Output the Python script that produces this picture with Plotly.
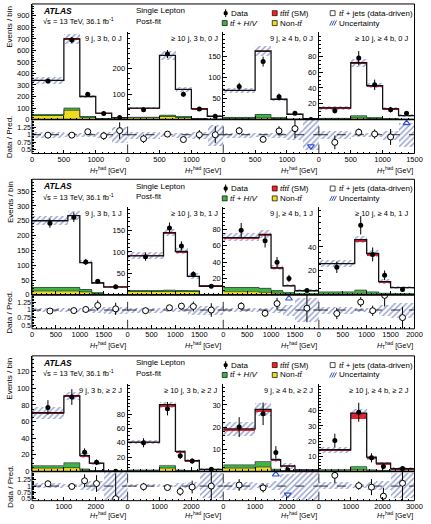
import math
import plotly.graph_objects as go

W, H = 431, 524

# ---------------- data ----------------
region_labels = ["9 j, 3 b, 0 J", "≥ 10 j, 3 b, 0 J", "9 j, ≥ 4 b, 0 J", "≥ 10 j, ≥ 4 b, 0 J",
                 "9 j, 3 b, 1 J", "≥ 10 j, 3 b, 1 J", "9 j, ≥ 4 b, 1 J", "≥ 10 j, ≥ 4 b, 1 J",
                 "9 j, 3 b, ≥ 2 J", "≥ 10 j, 3 b, ≥ 2 J", "9 j, ≥ 4 b, ≥ 2 J", "≥ 10 j, ≥ 4 b, ≥ 2 J"]
bin_edges = [[0, 500, 750, 1000, 1250, 1500],
             [0, 750, 1000, 1250, 1500, 2000],
             [0, 1000, 1500, 1800, 2250, 3000]]
x_ticks = [[0, 500, 1000, 1500], [0, 500, 1000, 1500, 2000], [0, 1000, 2000, 3000]]

prediction = [
    [340, 700, 200, 55, 15],
    [45, 253, 119, 42, 13],
    [69, 162, 48, 12.5, 2],
    [14.7, 72, 43, 13.5, 5],
    [250, 267, 109, 40, 26],
    [91, 145, 101, 43, 20],
    [70, 74, 33, 11, 5],
    [26, 46, 34.5, 11, 6],
    [70.6, 91, 19, 10, 0.5],
    [41, 93, 28, 15, 3],
    [19.2, 28, 5.3, 2.5, 0.7],
    [14.3, 38.4, 9.4, 5.5, 1.8],
]
observed = [
    [335, 690, 220, 53, 17],
    [39, 258, 100, 42, 13],
    [78, 137, 54, 15, 0.3],
    [11, 78, 44, 12.5, 8],
    [242, 262, 111, 46, 27],
    [89, 156, 114, 48, 20],
    [79, 66, 40, 20, 5.3],
    [23, 58, 33.7, 16.3, 4.5],
    [77, 89.5, 23, 11, 0.25],
    [40, 87.5, 22, 14.4, 3],
    [20, 26, 8.5, 0.8, None],
    [20.4, 39, 9, 3.3, 2],
]
uncertainty = [
    [30, 40, 15, 6, 4],
    [5, 18, 10, 5, 4.5],
    [6, 11, 4, 2, 1],
    [2, 5, 3, 2, 2],
    [15, 15, 7, 4, 3],
    [8, 8, 7, 7, 3],
    [5, 5, 3, 2, 2],
    [3, 3, 3, 2, 1.5],
    [7, 5, 3, 2, 0.3],
    [3, 4, 2.5, 2, 1.5],
    [3, 3, 1, 1.2, 0.5],
    [2, 3, 1.5, 1, 0.9],
]
tttt = [
    [0.5, 1.5, 1, 0.5, 0.3],
    [0.3, 2, 1.5, 0.5, 0.2],
    [0.5, 2, 1, 0.3, 0.1],
    [0.3, 1.2, 1, 0.3, 0.1],
    [0.5, 1, 1, 0.5, 0.3],
    [0.5, 2, 2, 1, 0.3],
    [1, 2, 1, 0.5, 0.2],
    [0.5, 2.5, 2, 1, 0.3],
    [0.5, 1, 0.5, 0.3, 0.1],
    [0.5, 2, 1, 0.5, 0.2],
    [0.8, 1, 0.3, 0.2, 0.1],
    [0.5, 3.5, 1, 0.8, 0.2],
]
tthv = [
    [5, 20, 5, 2, 1],
    [2, 5, 3, 1, 0.5],
    [2, 8, 2, 0.5, 0.2],
    [1, 3, 1, 0.5, 0.2],
    [12, 12, 8, 3, 1],
    [1.5, 3, 2, 1, 0.5],
    [5, 5, 3, 1.5, 0.5],
    [2, 3, 2, 1, 0.5],
    [3, 6, 1.5, 0.5, 0.1],
    [1, 3.8, 1, 0.5, 0.2],
    [1.5, 2.5, 0.5, 0.2, 0.1],
    [1, 2.3, 0.8, 0.5, 0.2],
]
non_tt = [
    [35, 80, 20, 5, 2],
    [7, 12, 8, 3, 1],
    [3, 4, 2, 0.5, 0.2],
    [0.5, 2, 1, 0.3, 0.1],
    [13, 13, 10, 3, 0.5],
    [8, 8, 8, 8, 0.5],
    [4, 3, 2, 1, 0.3],
    [0.5, 1, 0.5, 0.3, 0.2],
    [4, 4.5, 1.5, 0.5, 0.1],
    [1, 4.6, 1, 0.5, 0.2],
    [1.5, 2, 0.5, 0.2, 0.1],
    [0.3, 1, 0.3, 0.2, 0.1],
]
y_max = [1003, 345, 207, 111, 390, 204, 107, 73, 139, 122, 39.5, 57.7]
y_ticks = [list(range(0, 1000, 100)), [100, 200], [50, 100, 150], [20, 40, 60, 80],
           list(range(0, 400, 50)), [50, 100, 150], [20, 40, 60, 80], [20, 40],
           list(range(0, 140, 20)), [20, 40, 60, 80], [10, 20, 30], [10, 20, 30, 40]]
y_minor = [20, 20, 10, 5, 10, 10, 5, 5, 5, 5, 2, 2]
x_minor = [100, 100, 200]
ratio_ticks = [0.5, 0.75, 1, 1.25]

# ---------------- style ----------------
FONT = "Liberation Sans, Arial, Helvetica, sans-serif"
C_RED = "#ff1e1e"
C_GREEN = "#3cb44a"
C_YELLOW = "#eedc1e"
C_HATCH = "#2b3d9e"
C_ARROW = "#2e4fd6"
OUT = "#333333"

X0, X1 = 30.7, 422.3
PW = (X1 - X0) / 4
rows = [dict(T=4.0, Mb=120.7, Rb=155.0, ty=172.5, rlo=0.38, rhi=1.5),
        dict(T=181.0, Mb=297.7, Rb=332.0, ty=348.5, rlo=0.38, rhi=1.5),
        dict(T=359.3, Mb=476.0, Rb=505.5, ty=520.0, rlo=0.42, rhi=1.58)]
AX_TOP = 28.3


def fx(x):
    return x / W


def fy(y):
    return 1 - y / H


def akey(kind, n):
    return f"{kind}axis" if n == 1 else f"{kind}axis{n}"


def aref(kind, n):
    return kind if n == 1 else f"{kind}{n}"


fig = go.Figure()
layout = {}
shapes = []
ann = []

hatch_pat = dict(shape="/", fgcolor=C_HATCH, bgcolor="rgba(0,0,0,0)", size=4, solidity=0.36,
                 fillmode="overlay")

for r in range(3):
    g = rows[r]
    R_LO, R_HI = g["rlo"], g["rhi"]
    edges = bin_edges[r]
    centers = [(a + b) / 2 for a, b in zip(edges[:-1], edges[1:])]
    widths = [b - a for a, b in zip(edges[:-1], edges[1:])]
    xmax = edges[-1]
    for c in range(4):
        k = r * 4 + c
        im, ir = 2 * k + 1, 2 * k + 2
        xm, ym, xr, yr = aref("x", im), aref("y", im), aref("x", ir), aref("y", ir)
        left = X0 + c * PW
        right = left + PW
        top = g["T"] if c == 0 else g["T"] + AX_TOP
        tot = prediction[k]
        obs = observed[k]
        unc = uncertainty[k]
        nt = non_tt[k]
        hv = tthv[k]
        t4 = tttt[k]
        cum2 = [a + b for a, b in zip(nt, hv)]

        # ---- main panel ----
        fig.add_trace(go.Bar(x=centers, y=nt, base=[0] * 5, width=widths, xaxis=xm, yaxis=ym,
                             marker=dict(color=C_YELLOW, line=dict(width=0))))
        fig.add_trace(go.Bar(x=centers, y=hv, base=nt, width=widths, xaxis=xm, yaxis=ym,
                             marker=dict(color=C_GREEN, line=dict(width=0))))
        fig.add_trace(go.Bar(x=centers, y=t4, base=[a - b for a, b in zip(tot, t4)], width=widths,
                             xaxis=xm, yaxis=ym, marker=dict(color=C_RED, line=dict(width=0))))
        for arr in (nt, cum2):
            fig.add_trace(go.Scatter(x=edges, y=arr + [arr[-1]], xaxis=xm, yaxis=ym, mode="lines",
                                     line=dict(shape="hv", color=OUT, width=0.7)))
        fig.add_trace(go.Scatter(x=edges, y=tot + [tot[-1]], xaxis=xm, yaxis=ym, mode="lines",
                                 line=dict(shape="hv", color="#111111", width=1.3)))
        fig.add_trace(go.Bar(x=centers, y=[2 * u for u in unc], base=[t - u for t, u in zip(tot, unc)],
                             width=widths, xaxis=xm, yaxis=ym,
                             marker=dict(color="rgba(0,0,0,0)", line=dict(width=0), pattern=hatch_pat)))
        dx = [cx for cx, o in zip(centers, obs) if o is not None]
        dy = [o for o in obs if o is not None]
        fig.add_trace(go.Scatter(x=dx, y=dy, xaxis=xm, yaxis=ym, mode="markers",
                                 marker=dict(color="black", size=5),
                                 error_y=dict(type="data", array=[math.sqrt(v) for v in dy],
                                              thickness=1, width=0, color="black")))

        # ---- ratio panel ----
        rel = [u / t for u, t in zip(unc, tot)]
        fig.add_trace(go.Bar(x=centers, y=[2 * e for e in rel], base=[1 - e for e in rel], width=widths,
                             xaxis=xr, yaxis=yr,
                             marker=dict(color="rgba(0,0,0,0)", line=dict(width=0), pattern=hatch_pat)))
        fig.add_trace(go.Scatter(x=[0, xmax], y=[1, 1], xaxis=xr, yaxis=yr, mode="lines",
                                 line=dict(color="black", width=0.8, dash="dash")))
        rx, ry, re_ = [], [], []
        ux, dx2 = [], []
        for cx, o, t in zip(centers, obs, tot):
            if o is None:
                continue
            q = o / t
            if q > R_HI:
                ux.append(cx)
            elif q < R_LO:
                dx2.append(cx)
            else:
                rx.append(cx)
                ry.append(q)
                re_.append(math.sqrt(o) / t)
        fig.add_trace(go.Scatter(x=rx, y=ry, xaxis=xr, yaxis=yr, mode="markers",
                                 marker=dict(color="white", size=6, line=dict(color="black", width=1)),
                                 error_y=dict(type="data", array=re_, thickness=1, width=0, color="black")))
        if ux:
            fig.add_trace(go.Scatter(x=ux, y=[R_HI - 0.12] * len(ux), xaxis=xr, yaxis=yr, mode="markers",
                                     marker=dict(symbol="triangle-up-open", size=6, color=C_ARROW,
                                                 line=dict(width=1.2, color=C_ARROW))))
        if dx2:
            fig.add_trace(go.Scatter(x=dx2, y=[R_LO + 0.24] * len(dx2), xaxis=xr, yaxis=yr, mode="markers",
                                     marker=dict(symbol="triangle-down-open", size=6, color=C_ARROW,
                                                 line=dict(width=1.2, color=C_ARROW))))

        # ---- axes ----
        xt = x_ticks[r] if c == 3 else x_ticks[r][:-1]
        common_x = dict(domain=[fx(left), fx(right)], range=[0, xmax], showgrid=False, zeroline=False,
                        ticks="inside", ticklen=4, tickwidth=0.8, tickcolor="black",
                        tickmode="array", tickvals=xt, ticktext=[str(v) for v in xt],
                        minor=dict(tickmode="linear", tick0=0, dtick=x_minor[r], ticks="inside",
                                   ticklen=2, tickwidth=0.7, tickcolor="black"),
                        tickfont=dict(size=7.5, color="black", family=FONT))
        layout[akey("x", im)] = dict(common_x, anchor=ym, showticklabels=False, showline=False)
        layout[akey("x", ir)] = dict(common_x, anchor=yr, showticklabels=True, showline=False)
        layout[akey("y", im)] = dict(domain=[fy(g["Mb"]), fy(top)], range=[0, y_max[k]], anchor=xm,
                                     showgrid=False, zeroline=False, showline=True, linecolor="black",
                                     linewidth=1, ticks="inside", ticklen=4, tickwidth=0.8,
                                     tickcolor="black", tickmode="array", tickvals=y_ticks[k],
                                     ticktext=[str(v) for v in y_ticks[k]],
                                     minor=dict(tickmode="linear", tick0=0, dtick=y_minor[k],
                                                ticks="inside", ticklen=2, tickwidth=0.7,
                                                tickcolor="black"),
                                     tickfont=dict(size=7.5, color="black", family=FONT))
        if c == 0:
            layout[akey("y", ir)] = dict(domain=[fy(g["Rb"]), fy(g["Mb"])], range=[R_LO, R_HI], anchor=xr,
                                         showgrid=False, zeroline=False, showline=False,
                                         ticks="inside", ticklen=4, tickwidth=0.8, tickcolor="black",
                                         tickmode="array", tickvals=ratio_ticks,
                                         ticktext=["0.5", "0.75", "1", "1.25"],
                                         minor=dict(tickmode="linear", tick0=0, dtick=0.05,
                                                    ticks="inside", ticklen=2, tickwidth=0.7,
                                                    tickcolor="black"),
                                         tickfont=dict(size=7, color="black", family=FONT))
        else:
            layout[akey("y", ir)] = dict(domain=[fy(g["Rb"]), fy(g["Mb"])], range=[R_LO, R_HI], anchor=xr,
                                         showgrid=False, zeroline=False, showline=False,
                                         showticklabels=False, ticks="")
            shapes.append(dict(type="line", xref="paper", yref="paper", x0=fx(left), x1=fx(left),
                               y0=fy(g["Rb"]), y1=fy(g["Mb"]),
                               line=dict(color="black", width=0.8, dash="dash")))

        # region label and x title
        ann.append(dict(text=region_labels[k], x=fx(right - 3.5), y=fy(g["T"] + 35), xref="paper",
                        yref="paper", xanchor="right", yanchor="middle", showarrow=False,
                        font=dict(size=7.5, family=FONT, color="black")))
        ann.append(dict(text="<i>H</i><sub>T</sub><sup>had</sup> [GeV]", x=fx(right), y=fy(g["ty"]),
                        xref="paper", yref="paper", xanchor="right", yanchor="middle", showarrow=False,
                        font=dict(size=7, family=FONT, color="black")))

    # frame + divider
    shapes.append(dict(type="rect", xref="paper", yref="paper", x0=fx(X0), x1=fx(X1),
                       y0=fy(g["Rb"]), y1=fy(g["T"]), line=dict(color="black", width=1)))
    shapes.append(dict(type="line", xref="paper", yref="paper", x0=fx(X0), x1=fx(X1),
                       y0=fy(g["Mb"]), y1=fy(g["Mb"]), line=dict(color="black", width=1.6)))

    # y titles
    ann.append(dict(text="Events / bin", textangle=-90, x=fx(8), y=fy(g["T"]), xref="paper", yref="paper",
                    xanchor="center", yanchor="top", showarrow=False,
                    font=dict(size=8, family=FONT, color="black")))
    ann.append(dict(text="Data / Pred.", textangle=-90, x=fx(8), y=fy((g["Mb"] + g["Rb"]) / 2),
                    xref="paper", yref="paper", xanchor="center", yanchor="middle", showarrow=False,
                    font=dict(size=8, family=FONT, color="black")))

    # header texts
    T = g["T"]
    txt = lambda s, x, y, size=8: ann.append(dict(text=s, x=fx(x), y=fy(y), xref="paper", yref="paper",
                                                  xanchor="left", yanchor="middle", showarrow=False,
                                                  font=dict(size=size, family=FONT, color="black")))
    txt("<b><i>ATLAS</i></b>", 39.5, T + 7, 8.5)
    txt("√s = 13 TeV, 36.1 fb<sup>-1</sup>", 39.5, T + 17.7, 7.5)
    txt("Single Lepton", 135, T + 7)
    txt("Post-fit", 135, T + 17.7)
    y1, y2 = T + 9.3, T + 19.3
    tb = "<i>t</i><i>t̄</i>"
    txt("Data", 232.5, y1)
    txt(tb + tb + " (SM)", 282.5, y1)
    txt(tb + " + jets (data-driven)", 342.5, y1)
    txt(tb + " + <i>H</i>/<i>V</i>", 231, y2)
    txt("Non-" + tb, 282.5, y2)
    txt("Uncertainty", 342.5, y2)

    def box(x, y, col):
        shapes.append(dict(type="rect", xref="paper", yref="paper", x0=fx(x), x1=fx(x + 5),
                           y0=fy(y + 2.5), y1=fy(y - 2.5), fillcolor=col,
                           line=dict(color="black", width=0.7)))
    box(276.7, y1, C_RED)
    box(336, y1, "white")
    box(225.5, y2, C_GREEN)
    box(276.7, y2, C_YELLOW)
    shapes.append(dict(type="circle", xref="paper", yref="paper", x0=fx(226.8), x1=fx(231.2),
                       y0=fy(y1 + 2.2), y1=fy(y1 - 2.2), fillcolor="black", line=dict(width=0)))
    shapes.append(dict(type="line", xref="paper", yref="paper", x0=fx(229), x1=fx(229),
                       y0=fy(y1 + 4), y1=fy(y1 - 4), line=dict(color="black", width=1)))
    for dxh in (0, 2.2, 4.4):
        shapes.append(dict(type="line", xref="paper", yref="paper", x0=fx(335.5 + dxh), x1=fx(338 + dxh),
                           y0=fy(y2 + 2.5), y1=fy(y2 - 2.5), line=dict(color=C_HATCH, width=0.9)))

fig.update_layout(width=W, height=H, margin=dict(l=0, r=0, t=0, b=0), showlegend=False,
                  barmode="overlay", bargap=0, plot_bgcolor="white", paper_bgcolor="white",
                  font=dict(family=FONT, color="black"), shapes=shapes, annotations=ann, **layout)
fig.write_html("out.html", config={"displayModeBar": False},
               post_script="document.body.style.margin='0';document.body.style.overflow='hidden';")
